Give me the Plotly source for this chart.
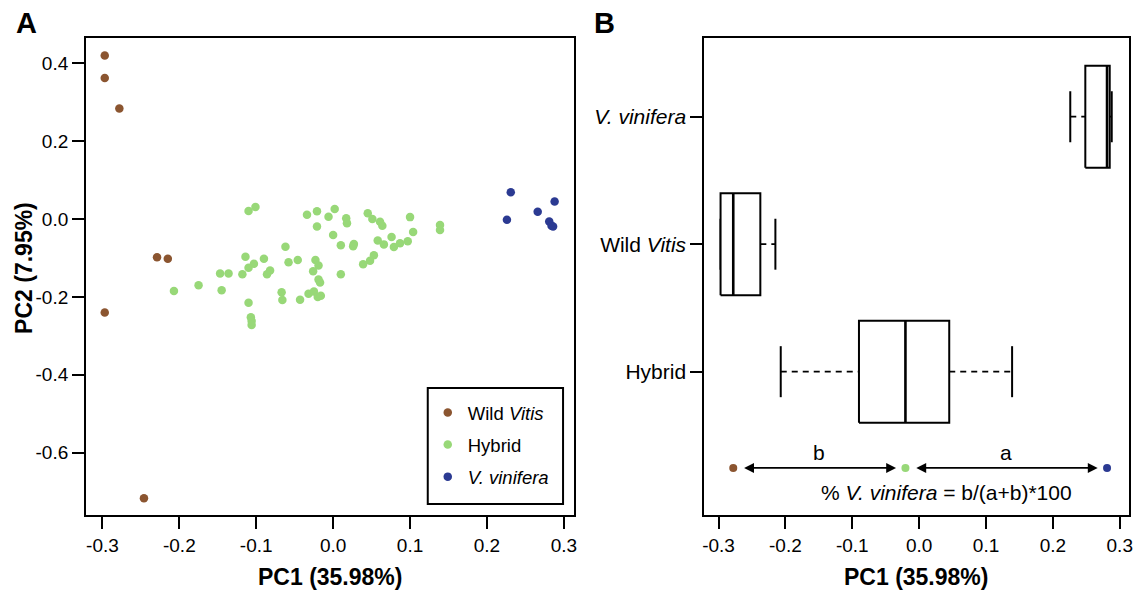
import numpy as np
import plotly.graph_objects as go

# ---------------- data ----------------
wild_pc1 = [-0.297, -0.297, -0.278, -0.229, -0.215, -0.297, -0.246]
wild_pc2 = [0.420, 0.362, 0.284, -0.098, -0.102, -0.240, -0.717]

hybrid_pc1 = [-0.110, -0.101, -0.114, -0.103, -0.110, -0.118, -0.147, -0.136, -0.175, -0.207,
              -0.145, -0.110, -0.107, -0.106, -0.106,
              -0.034, -0.021, -0.021, -0.006, 0.002, 0.017, 0.018, 0.000, 0.010, 0.027,
              -0.062, -0.090, -0.058, -0.046, -0.023, -0.019, -0.026, -0.019, -0.017, 0.010,
              -0.082, -0.086, -0.067, -0.066, -0.043, -0.032, -0.025, -0.020, -0.016,
              0.045, 0.051, 0.061, 0.064, 0.100, 0.139, 0.139, 0.104, 0.076, 0.058, 0.066,
              0.097, 0.087, 0.079, 0.053, 0.048, 0.039, 0.026]
hybrid_pc2 = [0.021, 0.031, -0.097, -0.115, -0.125, -0.142, -0.140, -0.140, -0.170, -0.185,
              -0.183, -0.215, -0.252, -0.262, -0.272,
              0.011, 0.020, -0.019, 0.006, 0.026, 0.002, -0.011, -0.041, -0.067, -0.064,
              -0.071, -0.102, -0.111, -0.105, -0.105, -0.119, -0.134, -0.155, -0.163, -0.142,
              -0.132, -0.142, -0.188, -0.208, -0.207, -0.192, -0.186, -0.200, -0.197,
              0.015, 0.000, -0.007, -0.017, 0.005, -0.015, -0.028, -0.033, -0.046, -0.055, -0.065,
              -0.057, -0.062, -0.072, -0.093, -0.107, -0.116, -0.070]

vinifera_pc1 = [0.231, 0.226, 0.266, 0.288, 0.281, 0.284, 0.286]
vinifera_pc2 = [0.069, -0.002, 0.019, 0.045, -0.006, -0.017, -0.019]

group_names = ["Wild <i>Vitis</i>", "Hybrid", "<i>V. vinifera</i>"]
group_colors = ["#8b5530", "#98d878", "#2b3a92"]
x_ticks = [-0.3, -0.2, -0.1, 0.0, 0.1, 0.2, 0.3]
x_ticklabels = ["-0.3", "-0.2", "-0.1", "0.0", "0.1", "0.2", "0.3"]
y_ticks = [-0.6, -0.4, -0.2, 0.0, 0.2, 0.4]
y_ticklabels = ["-0.6", "-0.4", "-0.2", "0.0", "0.2", "0.4"]
box_positions = [2, 1, 3]          # Wild, Hybrid, V. vinifera (B panel rows)
box_ticklabels = ["Hybrid", "Wild <i>Vitis</i>", "<i>V. vinifera</i>"]

FONT = "Liberation Sans, Arial, Helvetica, sans-serif"
W, H = 1147, 590


def fivenum(v):
    s = np.sort(np.asarray(v, dtype=float))
    n = len(s)
    n4 = np.floor((n + 3) / 2) / 2
    d = [1, n4, (n + 1) / 2, n + 1 - n4, n]
    return [0.5 * (s[int(np.floor(i)) - 1] + s[int(np.ceil(i)) - 1]) for i in d]


fig = go.Figure()

# ---------------- panel A: scatter ----------------
pcs = [(wild_pc1, wild_pc2), (hybrid_pc1, hybrid_pc2), (vinifera_pc1, vinifera_pc2)]
for i, ((px, py), name, col) in enumerate(zip(pcs, group_names, group_colors)):
    fig.add_trace(go.Scatter(
        x=px, y=py, mode="markers", name=name, legendgroup=f"g{i}",
        marker=dict(color=col, size=8.5, line=dict(width=0)),
        xaxis="x", yaxis="y", hoverinfo="x+y"))

# ---------------- panel B: boxplots ----------------
HALF = 0.4
CAP = 0.2
medians = []
for (px, _), pos in zip(pcs, box_positions):
    mn, q1, med, q3, mx = fivenum(px)
    medians.append(med)
    for a, b in ((mn, q1), (q3, mx)):
        fig.add_trace(go.Scatter(x=[a, b], y=[pos, pos], mode="lines",
                                 line=dict(color="black", width=1.8, dash="6px,5px"),
                                 xaxis="x2", yaxis="y2", showlegend=False, hoverinfo="skip"))
    for v in (mn, mx):
        fig.add_trace(go.Scatter(x=[v, v], y=[pos - CAP, pos + CAP], mode="lines",
                                 line=dict(color="black", width=2),
                                 xaxis="x2", yaxis="y2", showlegend=False, hoverinfo="skip"))
    fig.add_trace(go.Scatter(x=[q1, q3, q3, q1, q1],
                             y=[pos - HALF, pos - HALF, pos + HALF, pos + HALF, pos - HALF],
                             mode="lines", fill="toself", fillcolor="white",
                             line=dict(color="black", width=2),
                             xaxis="x2", yaxis="y2", showlegend=False, hoverinfo="skip"))
    fig.add_trace(go.Scatter(x=[med, med], y=[pos - HALF, pos + HALF], mode="lines",
                             line=dict(color="black", width=2.6),
                             xaxis="x2", yaxis="y2", showlegend=False, hoverinfo="skip"))

# schematic of the % V. vinifera computation (dots at group medians)
ARROW_Y = 0.245
GAP = 0.014
fig.add_trace(go.Scatter(x=medians, y=[ARROW_Y] * 3, mode="markers",
                         marker=dict(color=group_colors, size=8),
                         xaxis="x2", yaxis="y2", showlegend=False, hoverinfo="skip"))
m_wild, m_hyb, m_vin = medians
arrows = [((m_wild + GAP, m_hyb - GAP), "b"), ((m_hyb + GAP, m_vin - GAP), "a")]
annotations = []
for (x0, x1), lab in arrows:
    annotations.append(dict(x=x1, y=ARROW_Y, ax=x0, ay=ARROW_Y, xref="x2", yref="y2",
                            axref="x2", ayref="y2", text="", showarrow=True,
                            arrowhead=2, arrowside="end+start", arrowsize=1.1,
                            arrowwidth=1.8, arrowcolor="black", standoff=0, startstandoff=0))
    annotations.append(dict(x=(x0 + x1) / 2, y=0.37, xref="x2", yref="y2", text=lab,
                            xanchor="center", yanchor="middle",
                            showarrow=False, font=dict(size=21, color="black", family=FONT)))
annotations.append(dict(x=0.041, y=0.05, xref="x2", yref="y2",
                        text="% <i>V. vinifera</i> = b/(a+b)*100", showarrow=False,
                        xanchor="center", yanchor="middle",
                        font=dict(size=21, color="black", family=FONT)))


def paper_text(x, y, text, size, **kw):
    return dict(x=x / W, y=1 - y / H, xref="paper", yref="paper", text=text,
                xanchor="center", yanchor="middle", showarrow=False,
                font=dict(size=size, color="black", family=FONT), **kw)


annotations += [
    paper_text(330, 577, "<b>PC1 (35.98%)</b>", 23),
    paper_text(919, 577, "<b>PC1 (35.98%)</b>", 23),
    paper_text(22, 268, "<b>PC2 (7.95%)</b>", 23, textangle=-90),
    paper_text(25, 23, "<b>A</b>", 29),
    paper_text(606, 23, "<b>B</b>", 29),
]

axis_common = dict(showline=True, linecolor="black", linewidth=2, mirror=True,
                   ticks="outside", ticklen=12, tickwidth=2, tickcolor="black",
                   showgrid=False, zeroline=False,
                   tickfont=dict(size=19, color="black", family=FONT))

y_dom = [75 / H, 552 / H]
XR = [-0.3213, 0.3132]
fig.update_layout(
    width=W, height=H,
    margin=dict(l=0, r=0, t=0, b=0),
    paper_bgcolor="white", plot_bgcolor="white",
    font=dict(family=FONT, color="black"),
    xaxis=dict(domain=[84.5 / W, 575 / W], range=XR, tickvals=x_ticks,
               ticktext=x_ticklabels, anchor="y", **axis_common),
    yaxis=dict(domain=y_dom, range=[-0.760, 0.465], tickvals=y_ticks,
               ticktext=y_ticklabels, anchor="x", **axis_common),
    xaxis2=dict(domain=[706 / W, 1132.5 / W], range=XR, tickvals=x_ticks,
                ticktext=x_ticklabels, anchor="y2", **axis_common),
    yaxis2=dict(domain=y_dom, range=[-0.124, 3.617], tickvals=[1, 2, 3],
                ticktext=box_ticklabels, anchor="x2",
                **{**axis_common, "tickfont": dict(size=21, color="black", family=FONT)}),
    legend=dict(x=428 / W, y=1 - 394 / H, xanchor="left", yanchor="top",
                borderwidth=0, bgcolor="rgba(0,0,0,0)",
                font=dict(size=18.5, color="black", family=FONT),
                tracegroupgap=5, itemclick=False, itemdoubleclick=False),
    shapes=[dict(type="rect", xref="paper", yref="paper",
                 x0=428 / W, x1=564 / W, y0=1 - 504 / H, y1=1 - 388 / H,
                 line=dict(color="black", width=2), fillcolor="white", layer="above")],
    annotations=annotations,
    showlegend=True,
)

fig.write_html("out.html", config={"displayModeBar": False},
               post_script="document.body.style.margin='0';")
